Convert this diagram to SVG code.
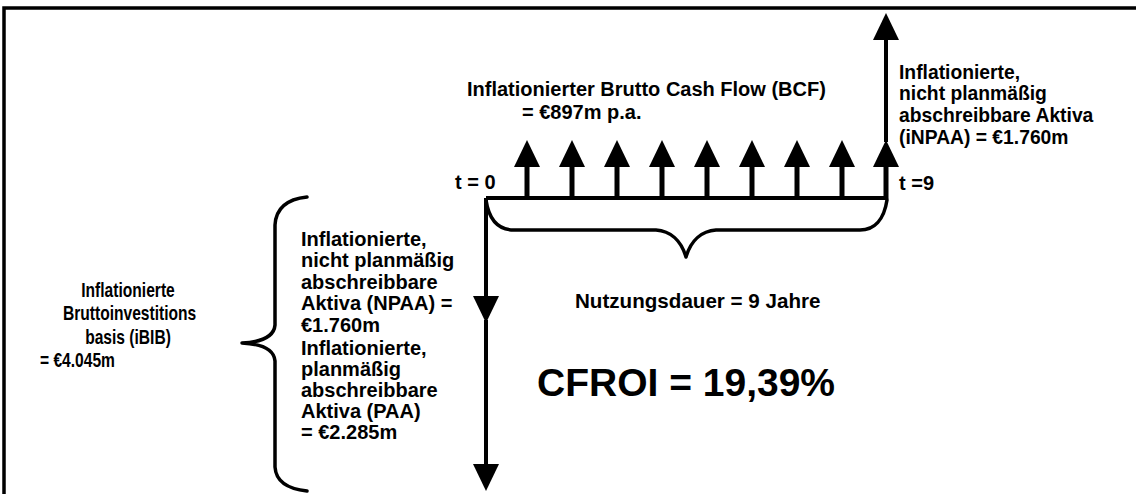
<svg xmlns="http://www.w3.org/2000/svg" width="1136" height="494" viewBox="0 0 1136 494">
<defs>
<style>
text{font-family:"Liberation Sans",Arial,sans-serif;font-weight:bold;fill:#000;}
.t20{font-size:20px;}
.t19{font-size:19.3px;}
.tl{font-size:19.5px;}
.t21{font-size:20.6px;}
.big{font-size:39px;}
.ln{stroke:#000;fill:none;stroke-width:4;}
.shaft{stroke:#000;fill:none;stroke-width:5;}
.brace{stroke:#000;fill:none;stroke-width:3.5;stroke-linecap:round;stroke-linejoin:round;}
.head{fill:#000;stroke:none;}
</style>
<path id="up" class="head" d="M0 0 L13 27 L-13 27 Z"/>
<path id="down" class="head" d="M0 0 L13 -27 L-13 -27 Z"/>
</defs>
<rect width="1136" height="494" fill="#fff"/>
<g id="frame">
<path d="M4 494 L4 8 L1136 8" stroke="#000" stroke-width="3.5" fill="none"/>
</g>
<g id="connectors">
<path class="ln" d="M486 198 L887 198"/>
<path class="ln" d="M486 198 L486 298"/>
<path class="ln" d="M486 320 L486 465"/>
<use href="#down" x="486" y="323"/>
<use href="#down" x="486" y="491"/>
<g id="cashflows">
<path class="shaft" d="M527 166 V199 M572 166 V199 M617 166 V199 M662 166 V199 M707 166 V199 M752 166 V199 M797 166 V199 M842 166 V199 M886 166 V199"/>
<use href="#up" x="527" y="140"/>
<use href="#up" x="572" y="140"/>
<use href="#up" x="617" y="140"/>
<use href="#up" x="662" y="140"/>
<use href="#up" x="707" y="140"/>
<use href="#up" x="752" y="140"/>
<use href="#up" x="797" y="140"/>
<use href="#up" x="842" y="140"/>
<use href="#up" x="886" y="140"/>
</g>
<path class="ln" d="M886 142 L886 38"/>
<use href="#up" x="886" y="13"/>
<path id="brace-h" class="brace" d="M486 200 C489 220 499 230 514 230 L656 230 C670 231 681 240 686 257 C691 240 702 231 716 230 L860 230 C874 230 884 220 887 200"/>
<path id="brace-v" class="brace" d="M307 197 C288 199 276 207 275 225 L275 325 C274 337 262 342 242 343 C262 344 274 349 275 361 L275 467 C276 482 288 489 307 491"/>
</g>
<g id="bcf">
<text class="t20" x="467" y="96">Inflationierter Brutto Cash Flow (BCF)</text>
<text class="t20" x="522" y="119">= €897m p.a.</text>
</g>
<g id="inpaa">
<text class="t19" x="899" y="79">Inflationierte,</text>
<text class="t19" x="899" y="100">nicht planmäßig</text>
<text class="t19" x="899" y="122">abschreibbare Aktiva</text>
<text class="t19" x="899" y="144">(iNPAA) = €1.760m</text>
</g>
<g id="t0"><text class="t20" x="455" y="189">t = 0</text></g>
<g id="t9"><text class="t20" x="899" y="190">t =9</text></g>
<g id="ibib" transform="translate(128,0) scale(0.8,1)">
<text class="tl" x="0" y="297" text-anchor="middle">Inflationierte</text>
<text class="tl" x="2" y="320" text-anchor="middle">Bruttoinvestitions</text>
<text class="tl" x="0" y="344" text-anchor="middle">basis (iBIB)</text>
<text class="tl" x="-110" y="367">= €4.045m</text>
</g>
<g id="npaa">
<text class="t20" x="301" y="246">Inflationierte,</text>
<text class="t20" x="301" y="267">nicht planmäßig</text>
<text class="t20" x="301" y="289">abschreibbare</text>
<text class="t20" x="301" y="310">Aktiva (NPAA) =</text>
<text class="t20" x="301" y="332">€1.760m</text>
</g>
<g id="paa">
<text class="t20" x="301" y="355">Inflationierte,</text>
<text class="t20" x="301" y="376">planmäßig</text>
<text class="t20" x="301" y="397">abschreibbare</text>
<text class="t20" x="301" y="418">Aktiva (PAA)</text>
<text class="t20" x="301" y="439">= €2.285m</text>
</g>
<g id="nutzung"><text class="t21" x="575" y="308">Nutzungsdauer = 9 Jahre</text></g>
<g id="cfroi"><text class="big" x="537" y="396">CFROI = 19,39%</text></g>
</svg>
